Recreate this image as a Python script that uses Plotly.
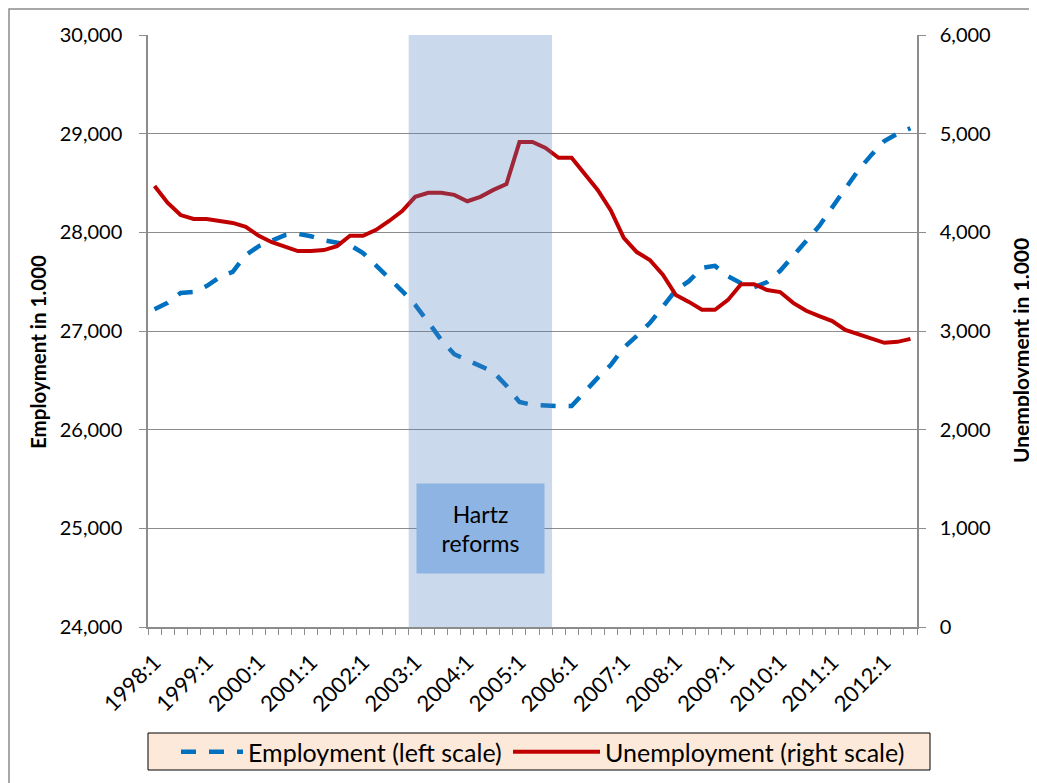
import plotly.graph_objects as go

years = list(range(1998, 2013))
quarters = [f"{y}:{q}" for y in years for q in range(1, 5)][:59]

employment = [27220, 27285, 27385, 27395, 27455, 27545, 27600, 27770, 27860, 27920,
              27970, 27985, 27960, 27920, 27890, 27870, 27790, 27670, 27535, 27405,
              27265, 27090, 26910, 26765, 26705, 26645, 26585, 26445, 26280, 26250,
              26240, 26240, 26240, 26390, 26525, 26655, 26830, 26950, 27080, 27245,
              27415, 27505, 27640, 27660, 27555, 27485, 27445, 27495, 27610, 27760,
              27910, 28065, 28255, 28450, 28630, 28785, 28925, 29000, 29055]

unemployment = [4470, 4300, 4175, 4135, 4135, 4115, 4095, 4055, 3965, 3900,
                3860, 3810, 3810, 3820, 3860, 3965, 3965, 4025, 4115, 4215,
                4360, 4400, 4400, 4380, 4315, 4360, 4430, 4490, 4915, 4915,
                4855, 4755, 4755, 4600, 4430, 4225, 3945, 3800, 3720, 3570,
                3365, 3295, 3215, 3215, 3315, 3475, 3475, 3415, 3395, 3285,
                3205, 3150, 3100, 3010, 2970, 2920, 2880, 2890, 2920]

label_idx = list(range(0, 59, 4))
label_txt = [quarters[i] for i in label_idx]

hartz_start = quarters.index("2003:1")
hartz_end = quarters.index("2005:3")

idx = list(range(len(quarters)))
FONT = "Lato, 'Open Sans', sans-serif"
GRID = "#8c8c8c"

# plot area in page pixels (page has an 8px body margin)
PL, PR, PT, PB = 148, 917, 35, 627
OFF = 8
W, H = 1037, 783


def px(xp):
    return (xp - PL) / (PR - PL)


def py(yp):
    return (PB - yp) / (PB - PT)


fig = go.Figure()
fig.add_trace(go.Scatter(x=idx, y=employment, mode="lines", name="Employment (left scale)",
                         line=dict(color="#0070C0", width=4.5, dash="15px,13px"),
                         customdata=quarters, yaxis="y", legend="legend"))
fig.add_trace(go.Scatter(x=idx, y=unemployment, mode="lines", name="Unemployment (right scale)",
                         line=dict(color="#C00000", width=4),
                         customdata=quarters, yaxis="y2", legend="legend2"))

# Hartz shading (semi-transparent, above lines as in original)
fig.add_shape(type="rect", xref="x", yref="paper", x0=hartz_start - 0.5, x1=hartz_end + 0.5,
              y0=0, y1=1, fillcolor="#4F81BD", opacity=0.3, line=dict(width=0), layer="above")

fig.add_annotation(xref="x", yref="paper", x=(hartz_start + hartz_end) / 2, y=py(528.5),
                   xanchor="center", yanchor="middle",
                   text="Hartz<br>reforms", showarrow=False, bgcolor="#8DB4E2",
                   width=125, height=87, font=dict(family=FONT, size=23, color="#000000"))

# axis titles
fig.add_annotation(xref="paper", yref="paper", x=px(38), y=py(352), textangle=-90,
                   text="<b>Employment in 1.000</b>", showarrow=False,
                   xanchor="center", yanchor="middle", font=dict(family=FONT, size=20.5))
fig.add_annotation(xref="paper", yref="paper", x=px(1021), y=py(350), textangle=-90,
                   text="<b>Unemployment in 1.000</b>", showarrow=False,
                   xanchor="center", yanchor="middle", font=dict(family=FONT, size=21))

# outer border
fig.add_shape(type="rect", xref="paper", yref="paper", x0=px(9), y0=py(830), x1=px(1080), y1=py(9),
              line=dict(color="#8c8c8c", width=1.5), fillcolor="rgba(0,0,0,0)", layer="below")

# legend box
fig.add_shape(type="rect", xref="paper", yref="paper", x0=px(148), y0=py(770), x1=px(930), y1=py(733),
              line=dict(color="#000000", width=1), fillcolor="#FDE9D9", layer="below")

leg_common = dict(orientation="h", xref="container", yref="container", xanchor="left",
                  y=(H - (752 - OFF)) / H, yanchor="middle", bgcolor="rgba(0,0,0,0)",
                  borderwidth=0, font=dict(family=FONT, size=25))

fig.update_layout(
    width=W, height=H,
    margin=dict(l=PL - OFF, r=W - (PR - OFF), t=PT - OFF, b=H - (PB - OFF), autoexpand=False),
    paper_bgcolor="white", plot_bgcolor="rgba(0,0,0,0)",
    font=dict(family=FONT, size=20, color="#000000"),
    showlegend=True,
    legend=dict(x=(176 - OFF) / W, itemwidth=62, **leg_common),
    legend2=dict(x=(508 - OFF) / W, itemwidth=87, **leg_common),
    xaxis=dict(range=[-0.5, 58.5], tickmode="array", tickvals=label_idx, ticktext=label_txt,
               tickangle=-45, ticks="outside", ticklen=0, showgrid=False, zeroline=False,
               showline=True, linecolor=GRID, linewidth=1.5, automargin=False,
               ticklabelstandoff=12,
               tickfont=dict(family=FONT, size=22),
               minor=dict(tickmode="linear", tick0=-0.5, dtick=1, ticks="outside", ticklen=6,
                          tickcolor=GRID, showgrid=False)),
    yaxis=dict(range=[24000, 30000], tickvals=[24000, 25000, 26000, 27000, 28000, 29000, 30000],
               tickformat=",d", showgrid=True, gridcolor=GRID, gridwidth=1.2, zeroline=False,
               showline=True, linecolor=GRID, linewidth=1.5, ticks="outside", ticklen=7,
               tickcolor=GRID, ticklabelstandoff=13, automargin=False),
    yaxis2=dict(range=[0, 6000], tickvals=[0, 1000, 2000, 3000, 4000, 5000, 6000],
                tickformat=",d", overlaying="y", side="right", showgrid=False, zeroline=False,
                showline=True, linecolor=GRID, linewidth=1.5, ticks="outside", ticklen=7,
                tickcolor=GRID, ticklabelstandoff=10, automargin=False),
)

fig.write_html("out.html")
